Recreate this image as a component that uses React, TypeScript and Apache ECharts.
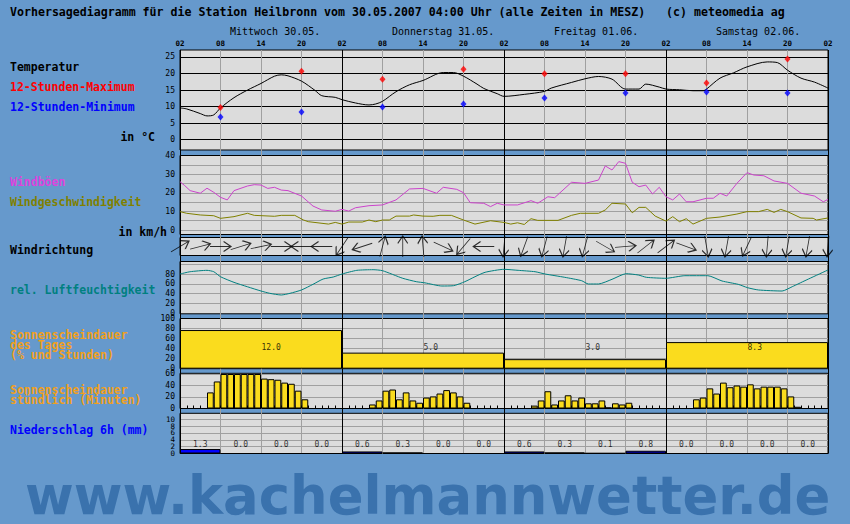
import React, { useEffect, useRef } from "react";
import * as echarts from "echarts";

// ---------- DATA ----------
const dayNames = ["Mittwoch 30.05.", "Donnerstag 31.05.", "Freitag 01.06.", "Samstag 02.06."];
const dayLabelHours = [7.4, 31.4, 55.4, 79.4];

// hours since Wed 02:00 -> temperature (°C)
const temperature: [number, number][] = [
  [0, 9.6], [1, 9.3], [3, 7.9], [4, 7.2], [5, 7.5], [6, 9.6], [8, 12.7], [10, 15.0], [12, 17.0],
  [14, 19.2], [15, 19.6], [16, 19.3], [18, 17.7], [20, 14.9], [21, 13.3], [23, 12.8], [24, 12.1],
  [26, 11.1], [28, 10.5], [29, 10.8], [30, 11.6], [32, 14.5], [34, 16.6], [36, 17.9], [39, 20.3],
  [40.5, 20.3], [42, 19.2], [44, 16.8], [45, 15.5], [47, 13.9], [48, 13.1], [51, 13.7], [54, 14.6],
  [55, 15.6], [58, 17.3], [60, 18.4], [62, 19.1], [64, 18.3], [66, 15.3], [68, 15.3], [69, 16.8],
  [71, 15.9], [72, 15.3], [74, 15.1], [76, 14.8], [77.5, 14.8], [78, 15.3], [80, 18.6], [82, 20.2],
  [84, 22.0], [87, 23.5], [88.5, 23.3], [90, 21.0], [92, 18.6], [94, 17.4], [96, 15.6],
];
const extremeHours = [6, 18, 30, 42, 54, 66, 78, 90];
const tempMax = [9.7, 20.7, 18.3, 21.3, 19.9, 19.9, 17.1, 24.4];
const tempMin = [6.9, 8.4, 9.9, 10.8, 12.6, 14.1, 14.4, 14.1];
const tempTicks = [0, 5, 10, 15, 20, 25];

const gusts: [number, number][] = [
  [0, 26], [0.7, 23.9], [1.5, 21.2], [3, 19.8], [4, 22.5], [5, 20.3], [6, 17.6], [7, 16.2], [8, 21.2],
  [10, 23.7], [11, 24.4], [12, 24.2], [13, 22.4], [14, 23], [15, 21.5], [16, 21.2], [18, 18.3],
  [19.7, 12.9], [21, 10.8], [23, 10.1], [24, 11.1], [25, 10.2], [26, 12], [28, 13.1], [30, 13.5],
  [32, 16.2], [34, 22.1], [36, 22.4], [38, 19.8], [39, 23], [41, 21.9], [42, 20.1], [43, 14.7],
  [45, 14.4], [46, 12.6], [47, 14.4], [48, 13.5], [50, 13.5], [52, 15.8], [53, 14.4], [54.5, 17.9],
  [55.5, 17.4], [58, 25.7], [60, 25.1], [62, 26.9], [63, 34.5], [64, 32.3], [65, 36.8], [66, 35.9],
  [67, 25.7], [68, 23.3], [69, 24.2], [70, 19.4], [71, 23], [72, 17.9], [73, 16.2], [74, 19.4],
  [75, 15.2], [76, 15.2], [78, 17.1], [79, 17.1], [80, 19.8], [81, 18.3], [82.5, 25.1], [84, 30.9],
  [85, 29.6], [86.5, 29.2], [88, 26.4], [90, 25.1], [92, 19.8], [94, 18.3], [95.3, 15.2], [96, 16.5],
];
const windSpeed: [number, number][] = [
  [0, 9.9], [1, 9.0], [3, 8.1], [5, 7.7], [6, 6.3], [8, 7.2], [10, 9.0], [11, 7.9], [14, 7.4],
  [15, 7.9], [17, 7.9], [18.3, 5.4], [19, 4.5], [22, 3.2], [23, 4.1], [24, 3.2], [25, 4.3], [27, 4.3],
  [28, 5.4], [29, 4.5], [30, 5.4], [31, 5.4], [32, 7.5], [34, 7.5], [34.6, 8.1], [36, 7.5],
  [37.5, 7.4], [38.5, 7.9], [40.2, 7.9], [42, 5.4], [43.7, 3.2], [46, 5.0], [48, 4.1], [49, 3.2],
  [50, 3.9], [51, 3.0], [52, 6.1], [53, 5.2], [56, 5.2], [58, 7.9], [59.3, 9.0], [62, 9.0],
  [63, 10.8], [64, 14.4], [66, 14.0], [67, 9.3], [68, 12.2], [69, 12.2], [70.4, 7.5], [72, 4.8],
  [73, 7.2], [74, 4.5], [75, 6.1], [76, 3.2], [78, 6.3], [80, 7.0], [82.5, 8.6], [84, 9.9],
  [85.7, 9.9], [87, 11.1], [88, 9.5], [89, 11.1], [90, 9.9], [92, 6.5], [93.8, 6.3], [94.3, 5.4],
  [96, 6.5],
];
const windGridTicks = [0, 5, 10, 15, 20, 25, 30, 35];
const windLabelTicks = [0, 10, 20, 30, 40];

const windDirHours = [0, 3, 6, 9, 12, 15, 18, 21, 24, 27, 30, 33, 36, 39, 42, 45, 48, 51, 54, 57, 60, 63, 66, 69, 72, 75, 78, 81, 84, 87, 90, 93, 96];
// direction the arrow points to, degrees clockwise from north
const windDir = [59, 75, 90, 73, 78, 90, 270, 270, 214, 252, 15, 0, 355, 115, 220, 270, 185, 200, 195, 190, 195, 120, 85, 52, 53, 110, 170, 190, 205, 185, 190, 190, 185];

const humidity: [number, number][] = [
  [0, 80], [1.5, 84.7], [4, 87.5], [5, 84.7], [6, 74.5], [8, 63], [10, 54], [12, 45.4], [13.3, 40.7],
  [15, 37.3], [16.3, 40.7], [18, 47.5], [19.7, 59], [21.2, 69.8], [22.7, 73.9], [24, 80], [26.2, 87.5],
  [28.6, 88.8], [30, 86.8], [33, 71.3], [35, 64.4], [36.3, 62], [38.8, 55.6], [40.5, 56.2],
  [42.2, 64.4], [43.7, 74.5], [45.2, 83.5], [48, 89.6], [50.1, 87.5], [52.6, 84.7], [54.1, 80],
  [57, 73.3], [59.5, 66.4], [60.5, 59.7], [62, 59.7], [64, 69.2], [66.1, 80.7], [67.9, 78],
  [69.1, 73.3], [72, 71.3], [74.8, 76.6], [78.2, 76.6], [80.3, 65.8], [82.7, 59], [84.1, 52.1],
  [85.7, 47.5], [89.2, 45.4], [90.7, 54.2], [93.1, 69.8], [96, 88.2],
];
const humGridTicks = [20, 40, 60, 80, 100];
const humLabelTicks = [0, 20, 40, 60, 80];

const sunDailyPct = [77, 32, 19, 53];
const sunDailyHours = [12.0, 5.0, 3.0, 8.3];
const sunDailyGrid = [20, 40, 60, 80];
const sunDailyLabels = [0, 20, 40, 60, 80, 100];

const sunHourly = [
  0, 0, 0, 0, 28, 47, 60, 60, 60, 60, 60, 60, 52, 51, 50, 45, 43, 31, 16, 0, 0, 0, 0, 0,
  0, 0, 0, 0, 7, 14, 31, 33, 16, 28, 14, 10, 19, 21, 26, 32, 28, 21, 10, 0, 0, 0, 0, 0,
  0, 0, 0, 0, 5, 14, 30, 7, 14, 23, 14, 19, 9, 9, 14, 2, 9, 7, 10, 0, 0, 0, 0, 0,
  0, 0, 0, 0, 16, 19, 35, 26, 45, 37, 40, 38, 42, 35, 38, 38, 38, 35, 21, 3, 0, 0, 0, 0,
];
const sunHourlyGrid = [20, 40, 60];
const sunHourlyLabels = [0, 20, 40, 60];

const precip6h = [1.3, 0.0, 0.0, 0.0, 0.6, 0.3, 0.0, 0.0, 0.6, 0.3, 0.1, 0.8, 0.0, 0.0, 0.0, 0.0];
const precipGrid = [2, 4, 6, 8, 10];
const precipLabelsA = [0, 4, 8];
const precipLabelsB = [2, 6, 10];

// ---------- STYLE / LAYOUT ----------
const MONO = '"DejaVu Sans Mono", monospace';
const BG = "#6699CC";
const PANEL = "#DCDCDC";
const GRIDGRAY = "#A0A0A0";
const YELLOW = "#FADC1E";
const L = 180;
const W = 648;
const panels = [
  { top: 50, height: 100 },
  { top: 155.5, height: 79 },
  { top: 237.5, height: 18 },
  { top: 261.5, height: 52.3 },
  { top: 318.5, height: 50.2 },
  { top: 373.3, height: 35.2 },
  { top: 413.3, height: 40.2 },
];
const ARROW = "path://M5,20L5,0M0,7L5,0L10,7";

function txt(x: number, y: number, text: string, fill: string, opts: any = {}) {
  const align = opts.align || "left";
  return {
    type: "text",
    x,
    y,
    silent: true,
    style: {
      text,
      x: 0,
      y: 0,
      fill,
      font: opts.font || `bold 11.5px ${MONO}`,
      align,
      textAlign: align,
      verticalAlign: "middle",
      textVerticalAlign: "middle",
      lineHeight: opts.lineHeight,
    },
  };
}

function buildOption(): any {
  const xBase = { type: "value", min: 0, max: 96, interval: 6 };
  const yLbl = {
    fontFamily: MONO, fontSize: 8, color: "#000", margin: 5,
    hideOverlap: false, showMinLabel: true, showMaxLabel: true,
  };
  const grayLine = { show: true, lineStyle: { color: GRIDGRAY, width: 1 } };

  const grid: any[] = panels.map((p) => ({
    left: L, width: W, top: p.top, height: p.height,
    show: true, backgroundColor: PANEL, borderColor: "#000", borderWidth: 1,
    containLabel: false, outerBoundsMode: "none",
  }));
  grid.push({ left: L, width: W, top: 50, height: 403.5, show: false, containLabel: false, outerBoundsMode: "none" });

  const hidden = { show: false };
  const xAxis: any[] = [
    {
      ...xBase, gridIndex: 0, position: "top",
      axisLine: hidden, axisTick: hidden, splitLine: hidden,
      axisLabel: {
        formatter: (v: number) => String((v + 2) % 24).padStart(2, "0"),
        fontFamily: MONO, fontSize: 7.5, fontWeight: "bold", color: "#000", margin: 3,
        hideOverlap: false, showMinLabel: true, showMaxLabel: true,
      },
    },
    {
      ...xBase, gridIndex: 0, position: "top", offset: 11,
      axisLine: hidden, axisTick: hidden, splitLine: hidden,
      axisLabel: {
        customValues: dayLabelHours,
        formatter: (v: number) => dayNames[Math.floor(v / 24)],
        align: "left", fontFamily: MONO, fontSize: 10, color: "#000", margin: 3,
        hideOverlap: false,
      },
    },
    { ...xBase, gridIndex: 1, show: false },
    { ...xBase, gridIndex: 2, show: false },
    { ...xBase, gridIndex: 3, show: false },
    { ...xBase, gridIndex: 4, show: false },
    {
      type: "value", min: 0, max: 96, interval: 1, gridIndex: 5,
      axisLine: hidden, axisLabel: hidden, splitLine: hidden,
      axisTick: { show: true, inside: true, length: 3, lineStyle: { color: "#000" } },
    },
    { ...xBase, gridIndex: 6, show: false },
    {
      ...xBase, gridIndex: 7,
      axisLine: hidden, axisTick: hidden, axisLabel: hidden,
      splitLine: { show: true, lineStyle: { color: ["#000", GRIDGRAY, GRIDGRAY, GRIDGRAY], width: 1 } },
    },
  ];

  const yAxis: any[] = [
    {
      type: "value", gridIndex: 0, min: -3.1, max: 27.1,
      axisLine: hidden, axisTick: { show: false, customValues: tempTicks },
      axisLabel: { ...yLbl, customValues: tempTicks },
      splitLine: { show: true, lineStyle: { color: "#000", width: 1 } },
    },
    {
      type: "value", gridIndex: 1, min: -2.4, max: 40.1,
      axisLine: hidden, axisTick: { show: false, customValues: windGridTicks },
      axisLabel: { ...yLbl, customValues: windLabelTicks },
      splitLine: grayLine,
    },
    { type: "value", gridIndex: 2, min: 0, max: 1, show: false },
    {
      type: "value", gridIndex: 3, min: -1, max: 105.5,
      axisLine: hidden, axisTick: { show: false, customValues: humGridTicks },
      axisLabel: { ...yLbl, customValues: humLabelTicks },
      splitLine: grayLine,
    },
    {
      type: "value", gridIndex: 4, min: 0, max: 100,
      axisLine: hidden, axisTick: { show: false, customValues: sunDailyGrid },
      axisLabel: { ...yLbl, customValues: sunDailyLabels },
      splitLine: grayLine,
    },
    {
      type: "value", gridIndex: 5, min: 0, max: 61.2,
      axisLine: hidden, axisTick: { show: false, customValues: sunHourlyGrid },
      axisLabel: { ...yLbl, customValues: sunHourlyLabels },
      splitLine: grayLine,
    },
    {
      type: "value", gridIndex: 6, min: 0, max: 11.7, position: "left",
      axisLine: hidden, axisTick: { show: false, customValues: precipGrid },
      axisLabel: { ...yLbl, fontSize: 7.5, customValues: precipLabelsA },
      splitLine: grayLine,
    },
    { type: "value", gridIndex: 7, min: 0, max: 1, show: false },
    {
      type: "value", gridIndex: 6, min: 0, max: 11.7, position: "left", offset: 0,
      axisLine: hidden, axisTick: { show: false, customValues: precipLabelsB },
      axisLabel: { ...yLbl, fontSize: 7.5, customValues: precipLabelsB },
      splitLine: hidden,
    },
  ];

  const smallLabel = { fontFamily: MONO, fontSize: 8, color: "#000" };

  const series: any[] = [
    {
      type: "line", name: "Temperatur", xAxisIndex: 0, yAxisIndex: 0, data: temperature,
      symbol: "none", smooth: 0.3, lineStyle: { color: "#000", width: 1 }, z: 3,
    },
    {
      type: "scatter", name: "12-Stunden-Maximum", xAxisIndex: 0, yAxisIndex: 0,
      data: extremeHours.map((h, i) => [h, tempMax[i]]),
      symbol: "diamond", symbolSize: [6, 7], itemStyle: { color: "#FF0000" }, z: 4,
    },
    {
      type: "scatter", name: "12-Stunden-Minimum", xAxisIndex: 0, yAxisIndex: 0,
      data: extremeHours.map((h, i) => [h, tempMin[i]]),
      symbol: "diamond", symbolSize: [6, 7], itemStyle: { color: "#0000FF" }, z: 4,
    },
    {
      type: "line", name: "Windböen", xAxisIndex: 2, yAxisIndex: 1, data: gusts,
      symbol: "none", lineStyle: { color: "#CC44CC", width: 1 },
    },
    {
      type: "line", name: "Windgeschwindigkeit", xAxisIndex: 2, yAxisIndex: 1, data: windSpeed,
      symbol: "none", lineStyle: { color: "#808000", width: 1 },
    },
    {
      type: "scatter", name: "Windrichtung", xAxisIndex: 3, yAxisIndex: 2,
      data: windDirHours.map((h, i) => [h, 0.5, windDir[i]]),
      symbol: ARROW, symbolSize: [10, 21],
      symbolRotate: (v: number[]) => -v[2],
      itemStyle: { color: "rgba(0,0,0,0)", borderColor: "#000", borderWidth: 1.2 },
    },
    {
      type: "line", name: "rel. Luftfeuchtigkeit", xAxisIndex: 4, yAxisIndex: 3, data: humidity,
      symbol: "none", smooth: 0.2, lineStyle: { color: "#008080", width: 1 },
    },
    {
      type: "bar", name: "Sonnenscheindauer des Tages", xAxisIndex: 5, yAxisIndex: 4,
      data: sunDailyPct.map((p, i) => [12 + 24 * i, p]), barWidth: 162,
      itemStyle: { color: YELLOW, borderColor: "#000", borderWidth: 1 },
    },
    {
      type: "scatter", xAxisIndex: 5, yAxisIndex: 4,
      data: sunDailyHours.map((h, i) => [12 + 24 * i, 43, h]),
      symbolSize: 1, itemStyle: { color: "rgba(0,0,0,0)" },
      label: { show: true, position: "right", distance: 0, formatter: (p: any) => p.value[2].toFixed(1), ...smallLabel },
    },
    {
      type: "bar", name: "Sonnenscheindauer stündlich", xAxisIndex: 6, yAxisIndex: 5,
      data: sunHourly.map((v, i) => [i + 0.5, v]), barWidth: 6.75,
      itemStyle: { color: YELLOW, borderColor: "#000", borderWidth: 1 },
    },
    {
      type: "bar", name: "Niederschlag 6h", xAxisIndex: 7, yAxisIndex: 6,
      data: precip6h.map((v, i) => [3 + 6 * i, v]), barWidth: 40.5,
      itemStyle: { color: "#0000FF", borderColor: "#000", borderWidth: 1 },
    },
    {
      type: "scatter", xAxisIndex: 7, yAxisIndex: 6,
      data: precip6h.map((v, i) => [3 + 6 * i, 2.5, v]),
      symbolSize: 1, itemStyle: { color: "rgba(0,0,0,0)" },
      label: { show: true, position: "inside", formatter: (p: any) => p.value[2].toFixed(1), ...smallLabel },
    },
  ];

  const orangeFont = `bold 11.5px ${MONO}`;
  const graphic = {
    elements: [
      txt(10, 12, "Vorhersagediagramm für die Station Heilbronn vom 30.05.2007 04:00 Uhr (alle Zeiten in MESZ)   (c) meteomedia ag", "#000", { font: `bold 11.6px ${MONO}` }),
      txt(10, 67, "Temperatur", "#000"),
      txt(10, 87.3, "12-Stunden-Maximum", "#FF0000"),
      txt(10, 107.3, "12-Stunden-Minimum", "#0000FF"),
      txt(155, 137, "in °C", "#000", { align: "right" }),
      txt(10, 182.3, "Windböen", "#DD44DD"),
      txt(10, 201.7, "Windgeschwindigkeit", "#808000"),
      txt(167, 231.7, "in km/h", "#000", { align: "right" }),
      txt(10, 250, "Windrichtung", "#000"),
      txt(10, 290, "rel. Luftfeuchtigkeit", "#008080"),
      txt(10, 345, "Sonnenscheindauer\ndes Tages\n(% und Stunden)", "#F0A020", { font: orangeFont, lineHeight: 10 }),
      txt(10, 395, "Sonnenscheindauer\nstündlich (Minuten)", "#F0A020", { font: orangeFont, lineHeight: 10 }),
      txt(10, 430, "Niederschlag 6h (mm)", "#0000FF"),
      txt(25, 495.5, "www.kachelmannwetter.de", "#3A72AD", { font: `bold 52.8px "DejaVu Sans", sans-serif` }),
    ],
  };

  return {
    animation: false,
    backgroundColor: BG,
    grid,
    xAxis,
    yAxis,
    series,
    graphic,
  };
}

export default function App() {
  const ref = useRef<HTMLDivElement>(null);
  useEffect(() => {
    const chart = echarts.init(ref.current as HTMLDivElement, null, { renderer: "svg" });
    chart.setOption(buildOption());
    return () => chart.dispose();
  }, []);
  return (
    <div
      ref={ref}
      style={{ position: "fixed", left: 0, top: 0, width: 850, height: 524, background: BG }}
    />
  );
}
